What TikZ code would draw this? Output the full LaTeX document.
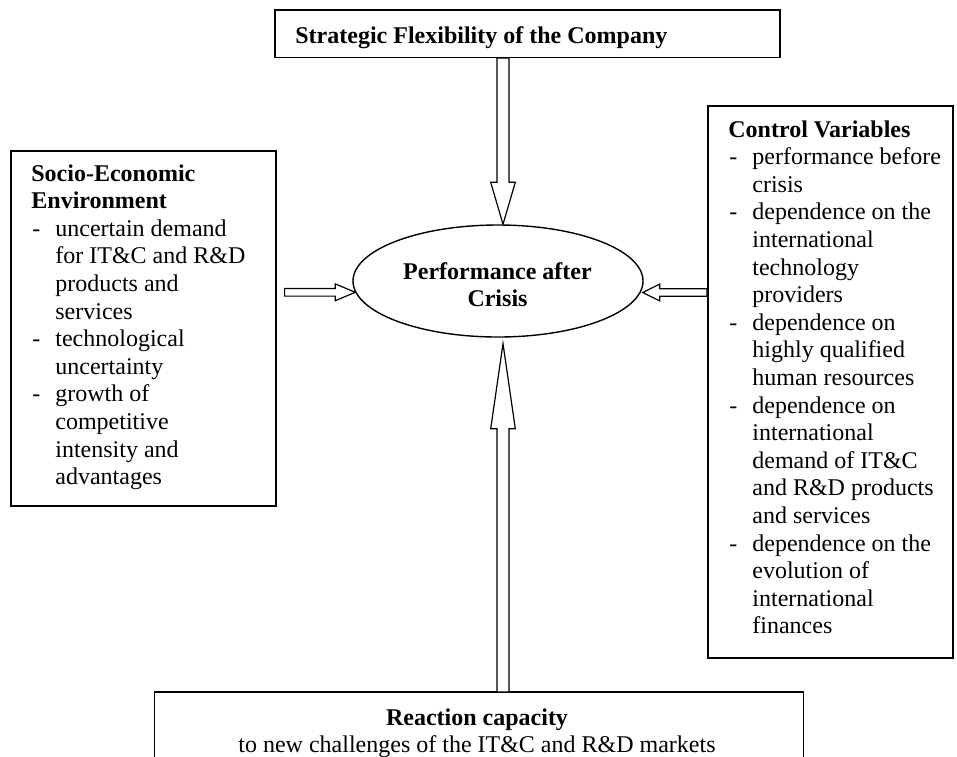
\documentclass[tikz,border=0pt]{standalone}
\usepackage{fontspec}
\setmainfont{Liberation Serif}
\usetikzlibrary{calc,shapes.geometric}
\newcommand\Dsh{\makebox[12pt][l]{\hspace{0.5pt}-}}
\newcommand\Ind{\hspace*{12pt}}
% #1 name, #2 start, #3 tip, #4 shaft half-width, #5 head half-width, #6 head length
\newcommand\blockarrow[6]{%
  \coordinate (#1b) at ($(#3)!#6!(#2)$);
  \draw[arrowline] ($(#2)!#4!90:(#3)$) -- ($(#1b)!#4!90:(#3)$) -- ($(#1b)!#5!90:(#3)$)
    -- (#3) -- ($(#1b)!#5!-90:(#3)$) -- ($(#1b)!#4!-90:(#3)$) -- ($(#2)!#4!-90:(#3)$) -- cycle;
}
\begin{document}
\begin{tikzpicture}[x=0.5pt,y=-0.5pt,
  box/.style={draw, line width=0.8pt, inner sep=0pt, anchor=north west},
  txt/.style={inner sep=0pt, anchor=base west, font=\fontsize{12}{13.8}\selectfont},
  ctxt/.style={inner sep=0pt, anchor=base},
  ellbox/.style={draw, ellipse, line width=0.7pt, inner sep=0pt},
  arrowline/.style={draw, line width=0.6pt, fill=white, line join=miter}]
\useasboundingbox (0,0) rectangle (957,756);

% boxes
\node[box, minimum width=252.5pt, minimum height=23.75pt] (top) at (274,9) {};
\node[box, minimum width=132.5pt, minimum height=177.5pt] (left) at (10,150) {};
\node[box, minimum width=122.5pt, minimum height=276pt] (right) at (707,105) {};
\node[inner sep=0pt, anchor=north west, minimum width=324pt, minimum height=32pt] (bot) at (154.6,692) {};
\draw[line width=0.8pt] (bot.south west) -- (bot.north west) -- (bot.north east) -- (bot.south east);

% ellipse
\node[ellbox, minimum width=145pt, minimum height=56pt] (ell) at (498,281) {};

% texts
\node[txt] (ttext) at (295,43) {\textbf{Strategic Flexibility of the Company}};

\node[txt] (ltext) at (31,181) {\parbox[t]{125pt}{\raggedright\fontsize{12}{13.8}\selectfont
\textbf{Socio-Economic}\\
\textbf{Environment}\\
\Dsh uncertain demand\\
\Ind for IT\&C and R\&D\\
\Ind products and\\
\Ind services\\
\Dsh technological\\
\Ind uncertainty\\
\Dsh growth of\\
\Ind competitive\\
\Ind intensity and\\
\Ind advantages}};

\node[txt] (rtext) at (728,137) {\parbox[t]{120pt}{\raggedright\fontsize{12}{13.8}\selectfont
\textbf{Control Variables}\\
\Dsh performance before\\
\Ind crisis\\
\Dsh dependence on the\\
\Ind international\\
\Ind technology\\
\Ind providers\\
\Dsh dependence on\\
\Ind highly qualified\\
\Ind human resources\\
\Dsh dependence on\\
\Ind international\\
\Ind demand of IT\&C\\
\Ind and R\&D products\\
\Ind and services\\
\Dsh dependence on the\\
\Ind evolution of\\
\Ind international\\
\Ind finances}};

\node[ctxt] (etext) at (497.5,279.3) {\parbox[t]{110pt}{\centering\fontsize{12}{13.7}\selectfont\bfseries Performance after\\Crisis}};

\node[ctxt] (btext) at (477,725) {\parbox[t]{300pt}{\centering\fontsize{12}{13.5}\selectfont\textbf{Reaction capacity}\\to new challenges of the IT\&C and R\&D markets}};

% arrow end points
\path (ell.north) ++(5,0) coordinate (aTt);
\coordinate (aTs) at (aTt |- top.south);
\path (ell.south) ++(5,6) coordinate (aBt);
\coordinate (aBs) at (aBt |- bot.north);
\path (ell.west) ++(3,11.3) coordinate (aLt);
\path (left.east |- aLt) ++(8,0) coordinate (aLs);
\path (ell.east) ++(-1,11.5) coordinate (aRt);
\coordinate (aRs) at (right.west |- aRt);

% block arrows
\blockarrow{aT}{aTs}{aTt}{3pt}{6.15pt}{21pt}
\blockarrow{aB}{aBs}{aBt}{3pt}{6.15pt}{42.5pt}
\blockarrow{aL}{aLs}{aLt}{1.9pt}{4.2pt}{10pt}
\blockarrow{aR}{aRs}{aRt}{1.9pt}{4.2pt}{8.5pt}
\end{tikzpicture}
\end{document}
